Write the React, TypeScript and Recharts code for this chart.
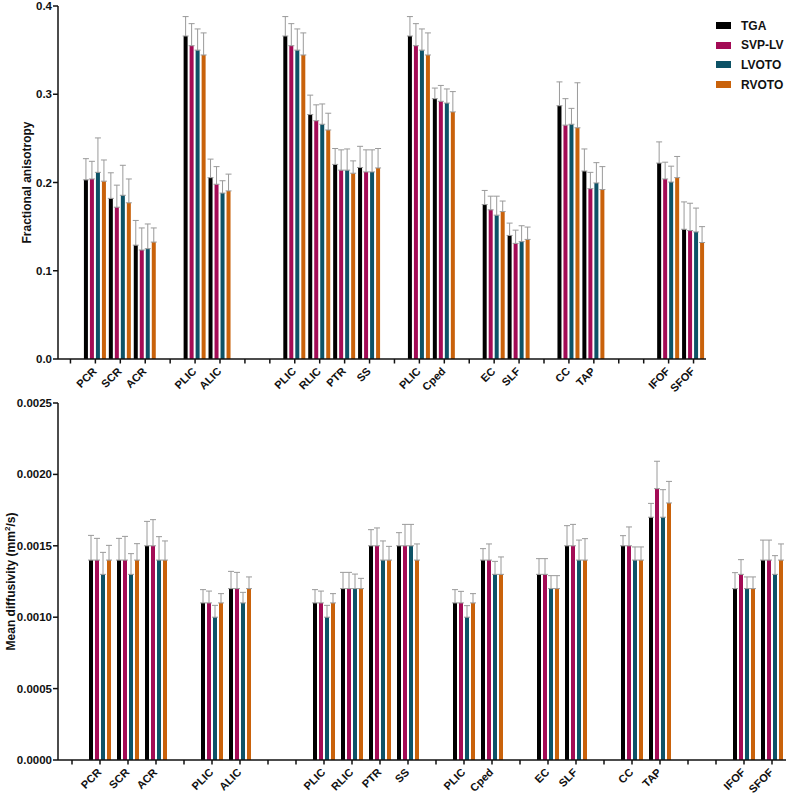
import React from "react";
import { BarChart, Bar, XAxis, YAxis, ErrorBar, Legend, Label } from "recharts";

// x slots, empty strings are the spacer positions between tract groups
const slots = [
  "", "PCR", "SCR", "ACR", "", "PLIC", "ALIC", "", "",
  "PLIC", "RLIC", "PTR", "SS", "", "PLIC", "Cped", "",
  "EC", "SLF", "", "CC", "TAP", "", "", "IFOF", "SFOF",
];

const groupNames = ["TGA", "SVP-LV", "LVOTO", "RVOTO"];
const groupKeys = ["tga", "svp", "lvoto", "rvoto"];
const groupColors = ["#000000", "#a30b55", "#0d5266", "#c9620b"];

// fractional anisotropy, mean
const faTga = [null, 0.203, 0.182, 0.129, null, 0.366, 0.2055, null, null, 0.366, 0.277, 0.2205, 0.217, null, 0.366, 0.295, null, 0.175, 0.14, null, 0.287, 0.213, null, null, 0.222, 0.147];
const faSvp = [null, 0.204, 0.172, 0.1235, null, 0.355, 0.198, null, null, 0.355, 0.27, 0.214, 0.212, null, 0.355, 0.292, null, 0.169, 0.131, null, 0.265, 0.193, null, null, 0.204, 0.1455];
const faLvoto = [null, 0.2115, 0.1855, 0.125, null, 0.35, 0.188, null, null, 0.35, 0.266, 0.214, 0.212, null, 0.35, 0.29, null, 0.163, 0.133, null, 0.266, 0.1995, null, null, 0.2005, 0.144];
const faRvoto = [null, 0.2015, 0.177, 0.1325, null, 0.3445, 0.1905, null, null, 0.3445, 0.2595, 0.2105, 0.2165, null, 0.3445, 0.28, null, 0.167, 0.1355, null, 0.262, 0.192, null, null, 0.2055, 0.132];

// fractional anisotropy, SD
const faTgaSd = [null, 0.024, 0.029, 0.028, null, 0.022, 0.021, null, null, 0.022, 0.022, 0.018, 0.024, null, 0.022, 0.012, null, 0.016, 0.014, null, 0.027, 0.025, null, null, 0.024, 0.031];
const faSvpSd = [null, 0.02, 0.025, 0.025, null, 0.025, 0.02, null, null, 0.025, 0.018, 0.023, 0.025, null, 0.025, 0.018, null, 0.0155, 0.015, null, 0.03, 0.0185, null, null, 0.019, 0.031];
const faLvotoSd = [null, 0.039, 0.034, 0.028, null, 0.024, 0.014, null, null, 0.024, 0.023, 0.024, 0.025, null, 0.024, 0.016, null, 0.0215, 0.018, null, 0.018, 0.023, null, null, 0.018, 0.027];
const faRvotoSd = [null, 0.024, 0.027, 0.016, null, 0.025, 0.019, null, null, 0.025, 0.019, 0.014, 0.022, null, 0.025, 0.023, null, 0.012, 0.014, null, 0.051, 0.026, null, null, 0.024, 0.018];

// mean diffusivity (mm2/s), mean
const mdTga = [null, 0.0014, 0.0014, 0.0015, null, 0.0011, 0.0012, null, null, 0.0011, 0.0012, 0.0015, 0.0015, null, 0.0011, 0.0014, null, 0.0013, 0.0015, null, 0.0015, 0.0017, null, null, 0.0012, 0.0014];
const mdSvp = [null, 0.0014, 0.0014, 0.0015, null, 0.0011, 0.0012, null, null, 0.0011, 0.0012, 0.0015, 0.0015, null, 0.0011, 0.0014, null, 0.0013, 0.0015, null, 0.0015, 0.0019, null, null, 0.0013, 0.0014];
const mdLvoto = [null, 0.0013, 0.0013, 0.0014, null, 0.001, 0.0011, null, null, 0.001, 0.0012, 0.0014, 0.0015, null, 0.001, 0.0013, null, 0.0012, 0.0014, null, 0.0014, 0.0017, null, null, 0.0012, 0.0013];
const mdRvoto = [null, 0.0014, 0.0014, 0.0014, null, 0.0011, 0.0012, null, null, 0.0011, 0.0012, 0.0014, 0.0014, null, 0.0011, 0.0013, null, 0.0012, 0.0014, null, 0.0014, 0.0018, null, null, 0.0012, 0.0014];

// mean diffusivity, SD
const mdTgaSd = [null, 0.000173, 0.000152, 0.000171, null, 0.000093, 0.000121, null, null, 0.000093, 0.000114, 0.000113, 0.000092, null, 0.000093, 0.00008, null, 0.00011, 0.000141, null, 0.000071, 0.000097, null, null, 0.000112, 0.00014];
const mdSvpSd = [null, 0.000152, 0.000166, 0.000183, null, 0.000083, 0.000114, null, null, 0.000083, 0.000114, 0.000125, 0.00015, null, 0.000081, 0.000113, null, 0.00011, 0.00015, null, 0.000132, 0.000192, null, null, 0.000103, 0.00014];
const mdLvotoSd = [null, 0.000154, 0.000145, 0.000164, null, 0.000083, 0.000074, null, null, 0.000083, 0.000102, 0.000134, 0.00015, null, 0.000081, 0.000091, null, 0.000091, 0.00014, null, 0.000092, 0.000193, null, null, 0.000082, 0.000131];
const mdRvotoSd = [null, 0.000103, 0.000115, 0.000134, null, 0.000065, 0.000082, null, null, 0.000065, 0.000072, 0.000096, 0.000113, null, 0.000065, 0.000122, null, 0.000091, 0.00015, null, 0.000092, 0.000151, null, null, 0.000082, 0.000113];

const faTicks = [0, 0.1, 0.2, 0.3, 0.4];
const mdTicks = [0, 0.0005, 0.001, 0.0015, 0.002, 0.0025];

const FONT = "'Liberation Sans', Arial, sans-serif";

function buildRows(means: (number | null)[][], sds: (number | null)[][]) {
  return slots.map((label, i) => {
    const row: any = { idx: i, label };
    groupKeys.forEach((k, g) => {
      const v = means[g][i];
      const s = sds[g][i];
      row[k] = v;
      row[k + "Err"] = v == null || s == null ? null : [0, s];
    });
    return row;
  });
}

const faRows = buildRows([faTga, faSvp, faLvoto, faRvoto], [faTgaSd, faSvpSd, faLvotoSd, faRvotoSd]);
const mdRows = buildRows([mdTga, mdSvp, mdLvoto, mdRvoto], [mdTgaSd, mdSvpSd, mdLvotoSd, mdRvotoSd]);

// tick mark + rotated label; y here is the axis line itself (tickSize/margin 0)
const SlotTick = (props: any) => {
  const { x, y, payload } = props;
  const text = slots[payload.value];
  const ax = x + 2;
  const ay = y + 13;
  return (
    <g>
      <line x1={x} x2={x} y1={y} y2={y + 4.5} stroke="#111" strokeWidth={1.5} />
      {text && (
        <text
          x={ax}
          y={ay}
          transform={`rotate(-45 ${ax} ${ay})`}
          textAnchor="end"
          fontSize={11}
          fontWeight="bold"
          fontFamily={FONT}
          fill="#111"
        >
          {text}
        </text>
      )}
    </g>
  );
};

const LegendBox = () => (
  <div style={{ fontFamily: FONT, fontWeight: "bold", fontSize: 12, color: "#111" }}>
    {groupNames.map((n, i) => (
      <div key={n} style={{ display: "flex", alignItems: "center", height: 19.6 }}>
        <span style={{ display: "inline-block", width: 15, height: 7, background: groupColors[i], marginRight: 10 }} />
        <span>{n}</span>
      </div>
    ))}
  </div>
);

const MdLabel = (props: any) => {
  const { viewBox } = props;
  const cy = viewBox.y + viewBox.height / 2;
  const cx = 11;
  return (
    <text
      x={cx}
      y={cy}
      transform={`rotate(-90 ${cx} ${cy})`}
      textAnchor="middle"
      dominantBaseline="central"
      fontSize={12}
      fontWeight="bold"
      fontFamily={FONT}
      fill="#111"
    >
      Mean diffusivity (mm
      <tspan dy={-4} fontSize={8}>2</tspan>
      <tspan dy={4}>/s)</tspan>
    </text>
  );
};

const axisProps = { stroke: "#111", strokeWidth: 1.5 };
const yTick = { fontSize: 11.5, fontWeight: "bold", fill: "#111", fontFamily: FONT };

function Panel({ rows, ticks, fmt, height, top, xHeight, children, legend }: any) {
  return (
    <BarChart
      width={790}
      height={height}
      data={rows}
      margin={{ top, right: 4, left: 0, bottom: 0 }}
      barSize={4}
      barGap={2}
    >
      <XAxis
        dataKey="idx"
        type="category"
        height={xHeight}
        interval={0}
        tickSize={0}
        tickMargin={0}
        tickLine={false}
        axisLine={axisProps}
        tick={<SlotTick />}
      />
      <YAxis
        width={58}
        domain={[ticks[0], ticks[ticks.length - 1]]}
        ticks={ticks}
        tickFormatter={fmt}
        tickSize={5}
        tickMargin={1}
        tickLine={axisProps}
        axisLine={axisProps}
        tick={yTick}
        allowDataOverflow
      >
        {children}
      </YAxis>
      {legend && (
        <Legend
          layout="vertical"
          align="right"
          verticalAlign="top"
          content={<LegendBox />}
          wrapperStyle={{ position: "absolute", top: 16, left: 716, width: 80 }}
        />
      )}
      {groupKeys.map((k, i) => (
        <Bar key={k} dataKey={k} name={groupNames[i]} fill={groupColors[i]} isAnimationActive={false}>
          <ErrorBar dataKey={k + "Err"} direction="y" width={3} stroke="#9a9a9a" strokeWidth={1} />
        </Bar>
      ))}
    </BarChart>
  );
}

export default function App() {
  return (
    <div style={{ position: "absolute", left: 0, top: 0, width: 790, height: 795, background: "#fff", fontFamily: FONT, overflow: "hidden" }}>
      <div style={{ position: "absolute", left: 0, top: 0 }}>
        <Panel rows={faRows} ticks={faTicks} fmt={(v: number) => v.toFixed(1)} height={410} top={6} xHeight={51} legend>
          <Label
            value="Fractional anisotropy"
            angle={-90}
            position="insideLeft"
            offset={0}
            style={{ fontSize: 12, fontWeight: "bold", fill: "#111", fontFamily: FONT, textAnchor: "middle" }}
            dx={27}
          />
        </Panel>
      </div>
      <div style={{ position: "absolute", left: 0, top: 395 }}>
        <Panel rows={mdRows} ticks={mdTicks} fmt={(v: number) => v.toFixed(4)} height={400} top={8} xHeight={35}>
          <Label content={<MdLabel />} />
        </Panel>
      </div>
    </div>
  );
}
